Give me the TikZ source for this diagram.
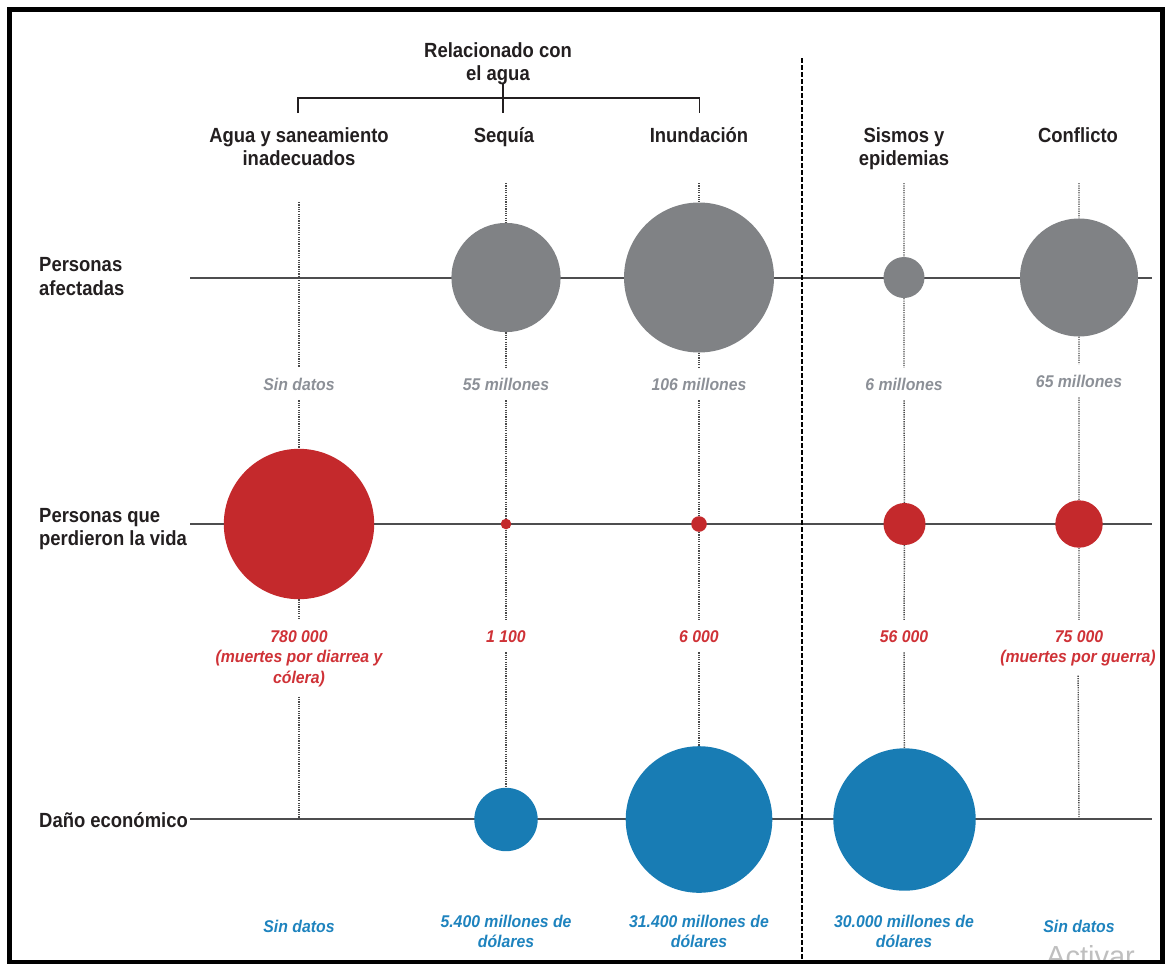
\documentclass[tikz,border=0pt]{standalone}
\usepackage{fontspec}
\setmainfont{Liberation Sans}[FakeStretch=0.9]
\newfontfamily\valfont{Liberation Sans}[FakeStretch=0.93]
\newfontfamily\markfont{Liberation Sans}
\definecolor{ink}{HTML}{231F20}
\definecolor{bubgray}{HTML}{808285}
\definecolor{bubred}{HTML}{C4292C}
\definecolor{bubblue}{HTML}{187CB4}
\definecolor{valgray}{HTML}{8C9097}
\definecolor{valred}{HTML}{CF3237}
\definecolor{valblue}{HTML}{1E83BE}
\definecolor{axiscol}{HTML}{4D4D4F}
\definecolor{dotcol}{HTML}{4A4A4A}
\pgfdeclarelayer{bg}
\pgfsetlayers{bg,main}
\begin{document}
\begin{tikzpicture}[x=1pt,y=-1pt,
  hdr/.style={font=\bfseries\fontsize{20.5}{24}\selectfont, text=ink, inner sep=0pt, anchor=base},
  rowlab/.style={font=\bfseries\fontsize{20.5}{24}\selectfont, text=ink, inner sep=0pt, anchor=base west},
  val/.style={font=\valfont\bfseries\itshape\fontsize{17}{20}\selectfont, inner xsep=2pt, inner ysep=10pt, anchor=base},
  vgray/.style={val, text=valgray},
  vred/.style={val, text=valred},
  vblue/.style={val, text=valblue},
  bub/.style={circle, inner sep=0pt, draw=none, minimum size={2*#1pt}},
  gb/.style={bub=#1, fill=bubgray},
  rb/.style={bub=#1, fill=bubred},
  bb/.style={bub=#1, fill=bubblue},
  axis/.style={draw=axiscol, line width=2pt},
  dotln/.style={draw=dotcol, line width=1.4pt, dash pattern=on 1.2pt off 1.1pt},
  sep/.style={draw=black, line width=1.8pt, dash pattern=on 4.5pt off 2.5pt},
  brk/.style={draw=ink, line width=1.8pt}
]
\useasboundingbox (0,0) rectangle (1166,964);

% watermark in the lower right corner, cut by the frame
\begin{scope}
  \clip (12,12) rectangle (1160,959.5);
  \node[font=\markfont\fontsize{29}{31}\selectfont, text=black!25, anchor=base west, inner sep=0pt] (wm) at (1046,966) {Activar};
\end{scope}

% outer frame
\draw[line width=4.5pt] (9.5,9.5) rectangle (1162.5,962);

% group heading and bracket
\node[hdr] (rel1) at (498,57) {Relacionado con};
\node[hdr] (rel2) at (498,80) {el agua};
\coordinate (k1) at (298,113);
\coordinate (k1u) at (298,98);
\coordinate (k3u) at (699.5,98);
\coordinate (k3) at (699.5,113);
\coordinate (km1) at (503,84);
\coordinate (km2) at (503,113);
\draw[brk] (k1) -- (k1u) -- (k3u) -- (k3);
\draw[brk] (km1) -- (km2);

% column headings
\node[hdr] (h1a) at (299,142) {Agua y saneamiento};
\node[hdr] (h1b) at (299,165) {inadecuados};
\node[hdr] (h2) at (504,142) {Sequía};
\node[hdr] (h3) at (699,142) {Inundación};
\node[hdr] (h4a) at (904,142) {Sismos y};
\node[hdr] (h4b) at (904,165) {epidemias};
\node[hdr] (h5) at (1078,142) {Conflicto};

% row headings
\node[rowlab] (ra1) at (39,271) {Personas};
\node[rowlab] (ra2) at (39,295) {afectadas};
\node[rowlab] (rb1) at (39,522) {Personas que};
\node[rowlab] (rb2) at (39,545) {perdieron la vida};
\node[rowlab] (rc) at (39,827) {Daño económico};

% bubbles
\node[gb=54.6] (b12) at (506,277.5) {};
\node[gb=75] (b13) at (699,277.5) {};
\node[gb=20.5] (b14) at (904,277.5) {};
\node[gb=59] (b15) at (1079,277.5) {};
\node[rb=75.2] (b21) at (299,524) {};
\node[rb=5.3] (b22) at (506,524) {};
\node[rb=7.8] (b23) at (699,524) {};
\node[rb=21] (b24) at (904.5,524) {};
\node[rb=23.7] (b25) at (1079,524) {};
\node[bb=31.7] (b32) at (506,819.5) {};
\node[bb=73.3] (b33) at (699,819.5) {};
\node[bb=71.2] (b34) at (904.5,819.5) {};

% values: people affected
\node[vgray] (v11) at (299,390) {Sin datos};
\node[vgray] (v12) at (506,390) {55 millones};
\node[vgray] (v13) at (699,390) {106 millones};
\node[vgray] (v14) at (904,390) {6 millones};
\node[vgray] (v15) at (1079,387) {65 millones};

% values: deaths
\node[vred] (v21a) at (299,642) {780 000};
\node[vred] (v21b) at (299,662) {(muertes por diarrea y};
\node[vred] (v21c) at (299,683) {cólera)};
\node[vred] (v22) at (506,642) {1 100};
\node[vred] (v23) at (699,642) {6 000};
\node[vred] (v24) at (904,642) {56 000};
\node[vred] (v25a) at (1079,642) {75 000};
\node[vred] (v25b) at (1078,662) {(muertes por guerra)};

% values: economic damage
\node[vblue] (v31) at (299,932) {Sin datos};
\node[vblue] (v32a) at (506,927) {5.400 millones de};
\node[vblue] (v32b) at (506,947) {dólares};
\node[vblue] (v33a) at (699,927) {31.400 millones de};
\node[vblue] (v33b) at (699,947) {dólares};
\node[vblue] (v34a) at (904,927) {30.000 millones de};
\node[vblue] (v34b) at (904,947) {dólares};
\node[vblue] (v35) at (1079,932) {Sin datos};

% line end points
\coordinate (ra-l) at (190,277.5);
\coordinate (ra-r) at (1152,277.5);
\coordinate (rb-l) at (190,524);
\coordinate (rb-r) at (1152,524);
\coordinate (rc-l) at (190,819);
\coordinate (rc-r) at (1152,819);
\coordinate (t1) at (299,202);
\coordinate (t2) at (506,183);
\coordinate (t3) at (699,183);
\coordinate (t4) at (904,183);
\coordinate (t5) at (1079,183);
\coordinate (e1) at (299,819);
\coordinate (e5) at (1079,819);
\coordinate (s1) at (802,58);
\coordinate (s2) at (802,960);

\begin{pgfonlayer}{bg}
  % row axes
  \draw[axis] (ra-l) -- (ra-r);
  \draw[axis] (rb-l) -- (rb-r);
  \draw[axis] (rc-l) -- (rc-r);
  % column guides
  \draw[dotln] (t1) -- (v11) (v11) -- (b21) (b21) -- (v21a) (v21c) -- (e1);
  \draw[dotln] (t2) -- (b12) (b12) -- (v12) (v12) -- (b22) (b22) -- (v22) (v22) -- (b32);
  \draw[dotln] (t3) -- (b13) (b13) -- (v13) (v13) -- (b23) (b23) -- (v23) (v23) -- (b33);
  \draw[dotln] (t4) -- (b14) (b14) -- (v14) (v14) -- (b24) (b24) -- (v24) (v24) -- (b34);
  \draw[dotln] (t5) -- (b15) (b15) -- (v15) (v15) -- (b25) (b25) -- (v25a) (v25b) -- (e5);
  % divider between water related and other events
  \draw[sep] (s1) -- (s2);
\end{pgfonlayer}
\end{tikzpicture}
\end{document}
